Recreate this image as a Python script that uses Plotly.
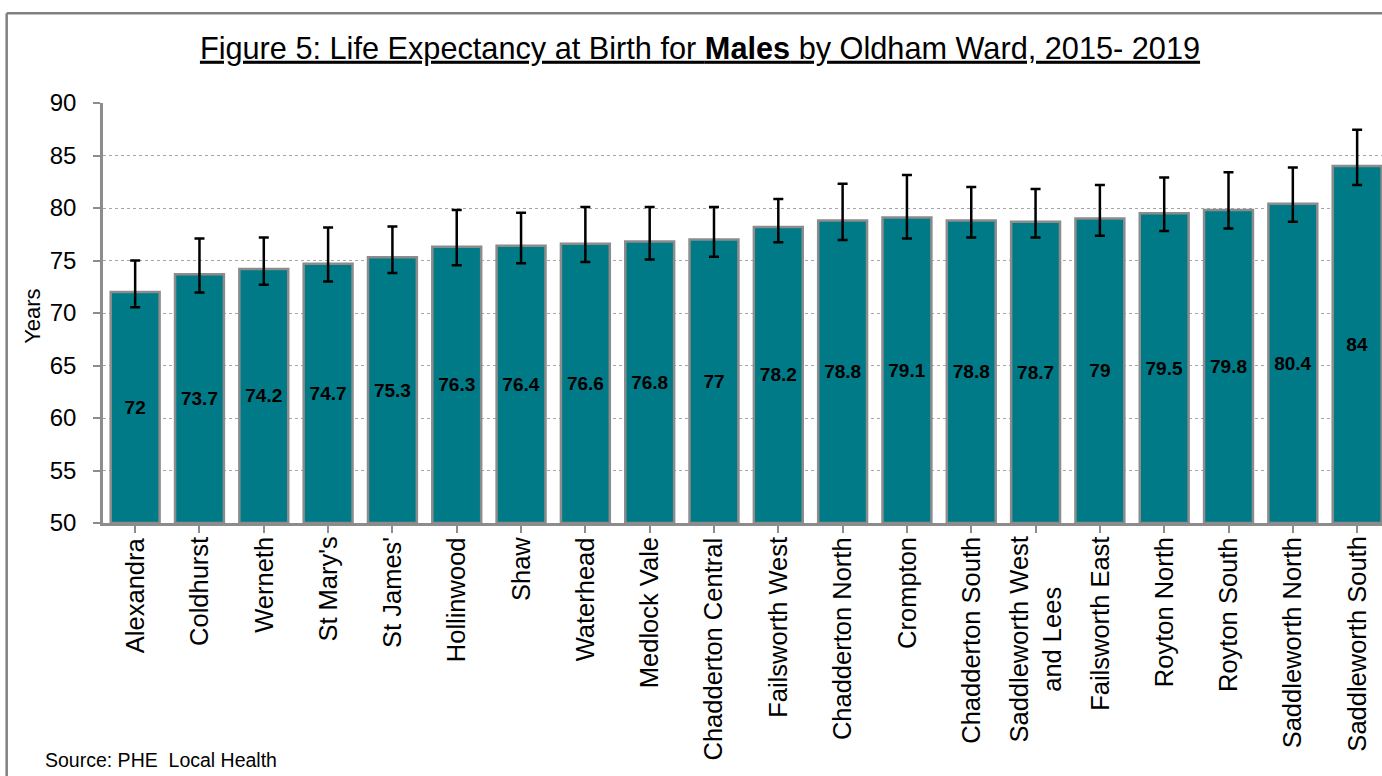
import plotly.graph_objects as go

wards = ["Alexandra", "Coldhurst", "Werneth", "St Mary's", "St James'", "Hollinwood",
         "Shaw", "Waterhead", "Medlock Vale", "Chadderton Central", "Failsworth West",
         "Chadderton North", "Crompton", "Chadderton South", "Saddleworth West<br>and Lees",
         "Failsworth East", "Royton North", "Royton South", "Saddleworth North",
         "Saddleworth South"]
life_exp = [72, 73.7, 74.2, 74.7, 75.3, 76.3, 76.4, 76.6, 76.8, 77, 78.2, 78.8, 79.1,
            78.8, 78.7, 79, 79.5, 79.8, 80.4, 84]
upper_ci = [75.0, 77.1, 77.2, 78.15, 78.25, 79.8, 79.55, 80.1, 80.1, 80.1, 80.85, 82.3,
            83.15, 82.0, 81.8, 82.2, 82.9, 83.4, 83.85, 87.45]
lower_ci = [70.55, 71.95, 72.7, 73.0, 73.8, 74.55, 74.75, 74.85, 75.1, 75.35, 76.75, 76.95,
            77.1, 77.2, 77.2, 77.35, 77.8, 78.05, 78.7, 82.2]
y_ticks = [50, 55, 60, 65, 70, 75, 80, 85, 90]
baseline = 50

W, H = 1382, 776
ML, MT, MR, MB = 103.3, 102.7, 0, 253
FONT = "Liberation Sans, Arial, sans-serif"
cat_px = 64.3
x_max = -0.5 + (W - ML - MR) / cat_px

sizes = [v - baseline for v in life_exp]
err_plus = [u - v for u, v in zip(upper_ci, life_exp)]
err_minus = [v - l for v, l in zip(life_exp, lower_ci)]
xs = list(range(len(wards)))

fig = go.Figure()
fig.add_trace(go.Bar(
    x=xs, y=sizes, base=baseline,
    marker=dict(color="#007A87", line=dict(color="#8C8C8C", width=2.5)),
    text=[f"{v:g}" for v in life_exp], texttemplate="<b>%{text}</b>",
    textposition="inside", insidetextanchor="middle", textangle=0,
    textfont=dict(family=FONT, size=19, color="black"),
    error_y=dict(type="data", symmetric=False, array=err_plus, arrayminus=err_minus,
                 color="black", thickness=2.5, width=5),
    hoverinfo="skip",
))

pw = W - ML - MR
ph = H - MT - MB


def px_to_paper(xp, yp):
    return (xp - ML) / pw, (H - MB - yp) / ph


x0, y0 = px_to_paper(7, 13)
x1, y1 = px_to_paper(W + 10, H + 10)
shapes = [
    dict(type="line", xref="paper", yref="paper", x0=x0, y0=y0, x1=x1, y1=y0,
         line=dict(color="#808080", width=2.5)),
    dict(type="line", xref="paper", yref="paper", x0=x0, y0=y0, x1=x0, y1=y1,
         line=dict(color="#808080", width=2.5)),
]

annotations = [
    dict(text="Years", textangle=-90, xref="paper", yref="paper",
         x=px_to_paper(32, 0)[0], y=px_to_paper(0, 316)[1],
         xanchor="center", yanchor="middle", showarrow=False,
         font=dict(family=FONT, size=22, color="black")),
    dict(text="Source: PHE  Local Health", xref="paper", yref="paper",
         x=px_to_paper(43, 0)[0], y=px_to_paper(0, 760)[1],
         xanchor="left", yanchor="middle", showarrow=False,
         font=dict(family=FONT, size=19.5, color="black")),
]
label_y = px_to_paper(0, 535)[1]
for xi, name in zip(xs, wards):
    annotations.append(dict(
        text=name, textangle=-90, xref="x", yref="paper", x=xi, y=label_y,
        xanchor="center", yanchor="top", align="center", showarrow=False,
        font=dict(family=FONT, size=25.5, color="black")))

fig.update_layout(
    width=W, height=H,
    margin=dict(l=ML, r=MR, t=MT, b=MB, pad=0),
    paper_bgcolor="white", plot_bgcolor="white",
    showlegend=False, bargap=0.24,
    title=dict(text="<u>Figure 5: Life Expectancy at Birth for <b>Males</b> by Oldham Ward, 2015- 2019</u>",
               x=700 / W, xref="container", xanchor="center",
               y=1 - 48 / H, yref="container", yanchor="middle",
               font=dict(family=FONT, size=30.7, color="black")),
    font=dict(family=FONT, color="black"),
    shapes=shapes,
    annotations=annotations,
)

fig.update_xaxes(
    range=[-0.5, x_max], tickmode="array", tickvals=xs, showticklabels=False,
    showline=True, linecolor="#8C8C8C", linewidth=2.5, mirror=False,
    ticks="outside", tickson="boundaries", ticklen=7, tickcolor="#8C8C8C", tickwidth=2,
    showgrid=False, zeroline=False, fixedrange=True,
)
fig.update_yaxes(
    range=[50, 90], tickmode="array", tickvals=y_ticks,
    tickfont=dict(family=FONT, size=24, color="black"),
    showline=True, linecolor="#8C8C8C", linewidth=2.5,
    ticks="outside", ticklen=7, tickcolor="#8C8C8C", tickwidth=2, ticklabelstandoff=12,
    showgrid=True, gridcolor="#A6A6A6", griddash="dot", gridwidth=1,
    zeroline=False, fixedrange=True,
)

fig.write_html("out.html", config={"displayModeBar": False},
               post_script="document.body.style.margin='0';")
